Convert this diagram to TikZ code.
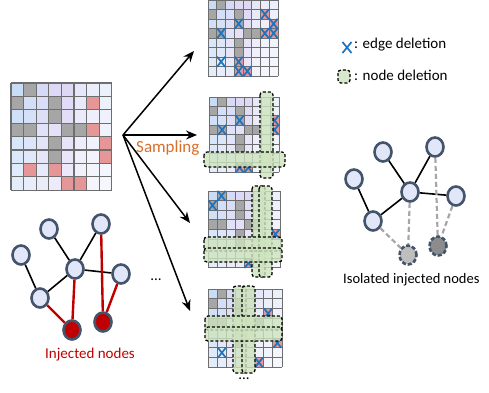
\documentclass[tikz,border=0pt]{standalone}
\usepackage{fontspec}
\setmainfont{Carlito}
\usetikzlibrary{arrows.meta,shapes.geometric}

% cell tints, left to right
\definecolor{cc0}{RGB}{200,220,246}
\definecolor{cc1}{RGB}{208,220,246}
\definecolor{cc2}{RGB}{215,218,246}
\definecolor{cc3}{RGB}{220,216,245}
\definecolor{cc4}{RGB}{222,216,245}
\definecolor{cc5}{RGB}{230,232,249}
\definecolor{cc6}{RGB}{234,238,250}
\definecolor{cc7}{RGB}{236,240,251}
\definecolor{gridcol}{RGB}{110,110,110}
\definecolor{graycol}{RGB}{166,166,166}
\definecolor{redcol}{RGB}{230,150,150}
\definecolor{xblue}{RGB}{30,115,190}
\definecolor{bandfill}{RGB}{206,228,190}
\definecolor{sampcol}{RGB}{217,110,40}
\definecolor{injred}{RGB}{192,0,0}
\definecolor{nodeedge}{RGB}{68,84,106}
\definecolor{nodefill}{RGB}{225,230,248}
\definecolor{isolA}{RGB}{190,190,190}
\definecolor{isolB}{RGB}{140,140,140}
\definecolor{dashgray}{RGB}{166,166,166}

% gray cells shared by every matrix (row/column)
\def\graylist{0/1,1/0,1/3,2/3,3/0,3/1,3/4,3/5,4/3,5/3}

% 8x8 matrix: x0, y0, cell width, cell height, red cells, line width
\newcommand\adjgrid[6]{%
  \begin{scope}[shift={(#1,#2)}]
    \foreach \mr in {0,...,7}{\foreach \mc in {0,...,7}{
      \pgfmathtruncatemacro\pct{100-7*\mr}
      \fill[cc\mc!\pct!white] (\mc*#3,\mr*#4) rectangle ++(#3,#4);}}
    \foreach \mr/\mc in \graylist {\fill[graycol] (\mc*#3,\mr*#4) rectangle ++(#3,#4);}
    \foreach \mr/\mc in {#5} {\fill[redcol] (\mc*#3,\mr*#4) rectangle ++(#3,#4);}
    \foreach \k in {0,...,8}{
      \draw[gridline,line width=#6] (\k*#3,0) -- (\k*#3,8*#4);
      \draw[gridline,line width=#6] (0,\k*#4) -- (8*#3,\k*#4);}
  \end{scope}}

% edge-deletion crosses: x0, y0, cell width, cell height, cells
\newcommand\xcells[5]{%
  \begin{scope}[shift={(#1,#2)}]
    \foreach \mr/\mc in {#5} {
      \draw[xmark] (\mc*#3+0.5*#3-4,\mr*#4+0.5*#4-5) -- ++(8,10)
                   (\mc*#3+0.5*#3+4,\mr*#4+0.5*#4-5) -- ++(-8,10);}
  \end{scope}}

\begin{document}
\begin{tikzpicture}[x=1pt,y=-1pt,
  gridline/.style={draw=gridcol},
  xmark/.style={draw=xblue,line width=1.7pt},
  band/.style={draw=black,fill=bandfill,fill opacity=0.8,dashed,
    dash pattern=on 3pt off 2pt,line width=1.3pt,rounded corners=3pt},
  arr/.style={line width=1.5pt,-{Stealth[length=11pt,width=9pt]}},
  gnode/.style={ellipse,draw=nodeedge,fill=nodefill,line width=2.6pt,
    minimum width=17pt,minimum height=19pt,inner sep=0pt},
  injnode/.style={gnode,fill=injred},
  isonode/.style={gnode,dashed,dash pattern=on 4pt off 2pt},
  gedge/.style={line width=1.6pt,black},
  redge/.style={line width=2.4pt,injred},
  dedge/.style={line width=2.2pt,dashgray,dash pattern=on 5pt off 3pt},
  lbl/.style={inner sep=0pt,font=\fontsize{15}{18}\selectfont},
]
\useasboundingbox (0,0) rectangle (489,392);

% ---- original matrix ----
\adjgrid{11}{83}{12.6}{13.4}{1/6,3/6,4/7,5/7,6/1,6/3,7/4,7/5}{1.3pt}

% ---- sampled matrices ----
\adjgrid{208}{0}{8.75}{9.5}{1/6,2/7,3/6,3/7,6/3,7/3,7/4}{1pt}
\xcells{208}{0}{8.75}{9.5}{1/6,2/3,2/7,3/1,3/6,3/7,6/1,6/3,7/3,7/4}

\adjgrid{209}{97}{8.75}{9.4}{2/7,3/7,7/3,7/4}{1pt}
\xcells{209}{97}{8.75}{9.4}{2/3,3/1,2/7,3/7,7/3,7/4}
\draw[band] (260,92) rectangle (273,178);
\draw[band] (204,152) rectangle (285,167);

\adjgrid{208}{191}{9}{9.6}{4/7,7/4}{1pt}
\xcells{208}{191}{9}{9.6}{0/1,1/0,4/7,7/4}
\draw[band] (252,186) rectangle (265,277);
\draw[band] (259,186) rectangle (272,277);
\draw[band] (204,237) rectangle (282,251);
\draw[band] (204,248) rectangle (282,262);

\adjgrid{208}{289}{9.25}{9.8}{2/6,5/7,7/5}{1pt}
\xcells{208}{289}{9.25}{9.8}{2/6,5/7,6/1,7/5}
\draw[band] (233,286) rectangle (246,373);
\draw[band] (242,286) rectangle (255,373);
\draw[band] (205,316) rectangle (282,330);
\draw[band] (205,327) rectangle (282,341);

% ---- sampling arrows ----
\coordinate (src) at (123,135);
\coordinate (t1) at (194,51);
\coordinate (t2) at (197,135);
\coordinate (t3) at (190,223);
\coordinate (t4) at (190,311);
\draw[arr] (src) -- (t1);
\draw[arr] (src) -- (t2);
\draw[arr] (src) -- (t3);
\draw[arr] (src) -- (t4);
\node[inner sep=0pt,anchor=base west,text=sampcol,font=\fontsize{17}{20}\selectfont]
  (samp) at (136,152) {Sampling};

% ---- legend ----
\coordinate (lx) at (347,47.5);
\draw[xmark] ([shift={(-4.5,-5.5)}]lx) -- ([shift={(4.5,5.5)}]lx)
             ([shift={(4.5,-5.5)}]lx) -- ([shift={(-4.5,5.5)}]lx);
\node[lbl,anchor=base west] (legx) at (354,48) {: edge deletion};
\draw[band] (338,70) rectangle (350,83);
\node[lbl,anchor=base west] (legn) at (354,80) {: node deletion};

% ---- graph with injected nodes ----
\node[gnode] (a) at (21,255) {};
\node[gnode] (b) at (49,229) {};
\node[gnode] (c) at (101,224) {};
\node[gnode] (d) at (75,269) {};
\node[gnode] (e) at (121,274) {};
\node[gnode] (f) at (40,298) {};
\node[injnode] (i1) at (72,330) {};
\node[injnode] (i2) at (103,322) {};
\draw[gedge] (a) -- (f);
\draw[gedge] (b) -- (d);
\draw[gedge] (c) -- (d);
\draw[gedge] (d) -- (e);
\draw[gedge] (d) -- (f);
\draw[redge] (f) -- (i1);
\draw[redge] (d) -- (i1);
\draw[redge] (c) -- (i2);
\draw[redge] (e) -- (i2);
\node[lbl,anchor=base west,text=injred] (injl) at (45,358) {Injected nodes};
\node[lbl] (dots1) at (156,280) {...};
\node[lbl] (dots2) at (244,379) {...};

% ---- graph after sampling ----
\node[gnode] (ra) at (354,179) {};
\node[gnode] (rb) at (383,152) {};
\node[gnode] (rc) at (435,147) {};
\node[gnode] (rd) at (410,192) {};
\node[gnode] (re) at (456,196) {};
\node[gnode] (rf) at (373,221) {};
\node[isonode,fill=isolA] (ri1) at (408,255) {};
\node[isonode,fill=isolB] (ri2) at (438,246) {};
\draw[gedge] (ra) -- (rf);
\draw[gedge] (rb) -- (rd);
\draw[gedge] (rc) -- (rd);
\draw[gedge] (rd) -- (re);
\draw[gedge] (rd) -- (rf);
\draw[dedge] (rf) -- (ri1);
\draw[dedge] (rd) -- (ri1);
\draw[dedge] (rc) -- (ri2);
\draw[dedge] (re) -- (ri2);
\node[lbl,anchor=base west,font=\fontsize{14.5}{17}\selectfont] (isol) at (343,283) {Isolated injected nodes};
\end{tikzpicture}
\end{document}
